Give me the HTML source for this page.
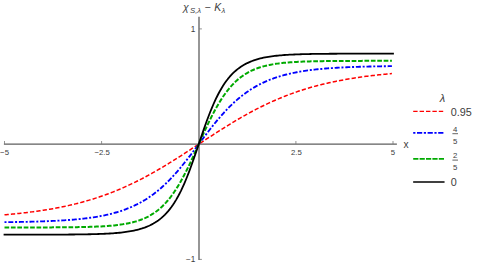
<!DOCTYPE html>
<html><head><meta charset="utf-8"><title>plot</title><style>
html,body{margin:0;padding:0;background:#fff;overflow:hidden;}
svg{display:block;font-family:"Liberation Sans",sans-serif;}
</style></head><body>
<svg width="477" height="268" viewBox="0 0 477 268">
<rect width="477" height="268" fill="#fff"/>
<g stroke="#5e5e5e" stroke-width="1.3" fill="none">
<path d="M3.9 144.15 H396.9"/>
<path d="M199 16.8 V259.9"/>
</g>
<g stroke="#777" stroke-width="0.8" fill="none">
<path d="M4.5 144 V141"/>
<path d="M101.6 144 V141"/>
<path d="M295.9 144 V141"/>
<path d="M393 144 V141"/>
<path d="M199 28.9 H201.9"/>
<path d="M199 259.4 H201.9"/>
</g>
<g fill="none" stroke-linejoin="round">
<path d="M4.50 214.78 L6.11 214.64 L7.73 214.50 L9.34 214.35 L10.96 214.20 L12.57 214.05 L14.19 213.89 L15.80 213.73 L17.41 213.57 L19.03 213.40 L20.64 213.22 L22.26 213.05 L23.87 212.86 L25.48 212.68 L27.10 212.48 L28.71 212.29 L30.33 212.08 L31.94 211.88 L33.56 211.66 L35.17 211.44 L36.78 211.22 L38.40 210.99 L40.01 210.76 L41.63 210.52 L43.24 210.27 L44.86 210.01 L46.47 209.76 L48.08 209.49 L49.70 209.22 L51.31 208.94 L52.93 208.65 L54.54 208.36 L56.15 208.06 L57.77 207.75 L59.38 207.44 L61.00 207.12 L62.61 206.79 L64.23 206.45 L65.84 206.11 L67.45 205.75 L69.07 205.39 L70.68 205.02 L72.30 204.64 L73.91 204.26 L75.53 203.86 L77.14 203.46 L78.75 203.05 L80.37 202.62 L81.98 202.19 L83.60 201.75 L85.21 201.30 L86.83 200.84 L88.44 200.37 L90.05 199.89 L91.67 199.40 L93.28 198.91 L94.90 198.40 L96.51 197.88 L98.12 197.35 L99.74 196.80 L101.35 196.25 L102.97 195.69 L104.58 195.12 L106.20 194.53 L107.81 193.94 L109.42 193.33 L111.04 192.71 L112.65 192.08 L114.27 191.44 L115.88 190.79 L117.50 190.13 L119.11 189.46 L120.72 188.77 L122.34 188.07 L123.95 187.36 L125.57 186.64 L127.18 185.91 L128.79 185.17 L130.41 184.42 L132.02 183.65 L133.64 182.87 L135.25 182.09 L136.87 181.29 L138.48 180.48 L140.09 179.66 L141.71 178.82 L143.32 177.98 L144.94 177.13 L146.55 176.26 L148.17 175.39 L149.78 174.51 L151.39 173.61 L153.01 172.71 L154.62 171.79 L156.24 170.87 L157.85 169.94 L159.46 169.00 L161.08 168.05 L162.69 167.09 L164.31 166.12 L165.92 165.15 L167.54 164.16 L169.15 163.17 L170.76 162.18 L172.38 161.17 L173.99 160.16 L175.61 159.15 L177.22 158.13 L178.84 157.10 L180.45 156.07 L182.06 155.03 L183.68 153.99 L185.29 152.95 L186.91 151.90 L188.52 150.85 L190.14 149.80 L191.75 148.74 L193.36 147.69 L194.98 146.63 L196.59 145.57 L198.21 144.51 L199.82 143.45 L201.43 142.39 L203.05 141.33 L204.66 140.27 L206.28 139.21 L207.89 138.16 L209.51 137.11 L211.12 136.06 L212.73 135.01 L214.35 133.97 L215.96 132.93 L217.58 131.89 L219.19 130.86 L220.81 129.84 L222.42 128.82 L224.03 127.81 L225.65 126.80 L227.26 125.80 L228.88 124.80 L230.49 123.82 L232.10 122.84 L233.72 121.86 L235.33 120.90 L236.95 119.94 L238.56 119.00 L240.18 118.06 L241.79 117.13 L243.40 116.21 L245.02 115.30 L246.63 114.40 L248.25 113.51 L249.86 112.62 L251.48 111.75 L253.09 110.89 L254.70 110.04 L256.32 109.20 L257.93 108.37 L259.55 107.56 L261.16 106.75 L262.77 105.96 L264.39 105.17 L266.00 104.40 L267.62 103.64 L269.23 102.89 L270.85 102.15 L272.46 101.42 L274.07 100.70 L275.69 100.00 L277.30 99.31 L278.92 98.62 L280.53 97.95 L282.15 97.29 L283.76 96.65 L285.37 96.01 L286.99 95.38 L288.60 94.77 L290.22 94.17 L291.83 93.58 L293.44 93.00 L295.06 92.43 L296.67 91.87 L298.29 91.32 L299.90 90.78 L301.52 90.25 L303.13 89.74 L304.74 89.23 L306.36 88.73 L307.97 88.25 L309.59 87.77 L311.20 87.31 L312.82 86.85 L314.43 86.40 L316.04 85.96 L317.66 85.54 L319.27 85.12 L320.89 84.71 L322.50 84.31 L324.12 83.91 L325.73 83.53 L327.34 83.16 L328.96 82.79 L330.57 82.43 L332.19 82.08 L333.80 81.74 L335.41 81.40 L337.03 81.08 L338.64 80.76 L340.26 80.45 L341.87 80.14 L343.49 79.84 L345.10 79.55 L346.71 79.27 L348.33 78.99 L349.94 78.72 L351.56 78.46 L353.17 78.20 L354.79 77.95 L356.40 77.71 L358.01 77.47 L359.63 77.23 L361.24 77.01 L362.86 76.78 L364.47 76.57 L366.08 76.36 L367.70 76.15 L369.31 75.95 L370.93 75.75 L372.54 75.56 L374.16 75.38 L375.77 75.20 L377.38 75.02 L379.00 74.85 L380.61 74.68 L382.23 74.51 L383.84 74.35 L385.46 74.20 L387.07 74.05 L388.68 73.90 L390.30 73.76 L391.91 73.62" stroke="#ff0000" stroke-width="1.5" stroke-dasharray="4.3 2.1"/>
<path d="M4.50 222.17 L6.11 222.15 L7.73 222.13 L9.34 222.11 L10.96 222.09 L12.57 222.06 L14.19 222.04 L15.80 222.01 L17.41 221.99 L19.03 221.96 L20.64 221.93 L22.26 221.90 L23.87 221.87 L25.48 221.84 L27.10 221.80 L28.71 221.76 L30.33 221.73 L31.94 221.69 L33.56 221.64 L35.17 221.60 L36.78 221.55 L38.40 221.50 L40.01 221.45 L41.63 221.40 L43.24 221.34 L44.86 221.28 L46.47 221.22 L48.08 221.16 L49.70 221.09 L51.31 221.02 L52.93 220.95 L54.54 220.87 L56.15 220.79 L57.77 220.70 L59.38 220.61 L61.00 220.52 L62.61 220.42 L64.23 220.31 L65.84 220.20 L67.45 220.09 L69.07 219.97 L70.68 219.85 L72.30 219.72 L73.91 219.58 L75.53 219.43 L77.14 219.28 L78.75 219.13 L80.37 218.96 L81.98 218.79 L83.60 218.61 L85.21 218.42 L86.83 218.22 L88.44 218.01 L90.05 217.79 L91.67 217.56 L93.28 217.32 L94.90 217.07 L96.51 216.81 L98.12 216.53 L99.74 216.24 L101.35 215.94 L102.97 215.63 L104.58 215.30 L106.20 214.95 L107.81 214.59 L109.42 214.21 L111.04 213.81 L112.65 213.40 L114.27 212.97 L115.88 212.51 L117.50 212.04 L119.11 211.55 L120.72 211.03 L122.34 210.49 L123.95 209.92 L125.57 209.33 L127.18 208.72 L128.79 208.07 L130.41 207.40 L132.02 206.70 L133.64 205.97 L135.25 205.21 L136.87 204.42 L138.48 203.59 L140.09 202.73 L141.71 201.83 L143.32 200.90 L144.94 199.93 L146.55 198.92 L148.17 197.87 L149.78 196.78 L151.39 195.65 L153.01 194.48 L154.62 193.26 L156.24 192.00 L157.85 190.70 L159.46 189.35 L161.08 187.96 L162.69 186.51 L164.31 185.03 L165.92 183.50 L167.54 181.92 L169.15 180.29 L170.76 178.63 L172.38 176.91 L173.99 175.16 L175.61 173.36 L177.22 171.52 L178.84 169.64 L180.45 167.72 L182.06 165.77 L183.68 163.78 L185.29 161.77 L186.91 159.72 L188.52 157.65 L190.14 155.56 L191.75 153.45 L193.36 151.32 L194.98 149.18 L196.59 147.03 L198.21 144.88 L199.82 142.72 L201.43 140.57 L203.05 138.42 L204.66 136.29 L206.28 134.16 L207.89 132.06 L209.51 129.97 L211.12 127.91 L212.73 125.87 L214.35 123.87 L215.96 121.89 L217.58 119.95 L219.19 118.05 L220.81 116.18 L222.42 114.35 L224.03 112.57 L225.65 110.82 L227.26 109.13 L228.88 107.47 L230.49 105.86 L232.10 104.30 L233.72 102.78 L235.33 101.31 L236.95 99.88 L238.56 98.50 L240.18 97.17 L241.79 95.88 L243.40 94.63 L245.02 93.43 L246.63 92.27 L248.25 91.16 L249.86 90.08 L251.48 89.04 L253.09 88.05 L254.70 87.09 L256.32 86.17 L257.93 85.28 L259.55 84.43 L261.16 83.62 L262.77 82.84 L264.39 82.08 L266.00 81.36 L267.62 80.67 L269.23 80.01 L270.85 79.38 L272.46 78.77 L274.07 78.19 L275.69 77.63 L277.30 77.10 L278.92 76.59 L280.53 76.10 L282.15 75.64 L283.76 75.19 L285.37 74.76 L286.99 74.35 L288.60 73.96 L290.22 73.59 L291.83 73.24 L293.44 72.89 L295.06 72.57 L296.67 72.26 L298.29 71.96 L299.90 71.68 L301.52 71.41 L303.13 71.15 L304.74 70.90 L306.36 70.66 L307.97 70.44 L309.59 70.22 L311.20 70.02 L312.82 69.82 L314.43 69.63 L316.04 69.45 L317.66 69.28 L319.27 69.12 L320.89 68.97 L322.50 68.82 L324.12 68.68 L325.73 68.54 L327.34 68.41 L328.96 68.29 L330.57 68.17 L332.19 68.06 L333.80 67.95 L335.41 67.85 L337.03 67.75 L338.64 67.66 L340.26 67.57 L341.87 67.49 L343.49 67.41 L345.10 67.33 L346.71 67.26 L348.33 67.19 L349.94 67.12 L351.56 67.06 L353.17 67.00 L354.79 66.94 L356.40 66.88 L358.01 66.83 L359.63 66.78 L361.24 66.73 L362.86 66.69 L364.47 66.64 L366.08 66.60 L367.70 66.56 L369.31 66.52 L370.93 66.49 L372.54 66.45 L374.16 66.42 L375.77 66.39 L377.38 66.36 L379.00 66.33 L380.61 66.30 L382.23 66.28 L383.84 66.25 L385.46 66.23 L387.07 66.21 L388.68 66.19 L390.30 66.16 L391.91 66.15" stroke="#0000ff" stroke-width="1.85" stroke-dasharray="2.0 1.8 5.0 1.8"/>
<path d="M4.50 227.46 L6.11 227.46 L7.73 227.45 L9.34 227.45 L10.96 227.45 L12.57 227.45 L14.19 227.45 L15.80 227.45 L17.41 227.45 L19.03 227.45 L20.64 227.45 L22.26 227.44 L23.87 227.44 L25.48 227.44 L27.10 227.44 L28.71 227.44 L30.33 227.43 L31.94 227.43 L33.56 227.43 L35.17 227.42 L36.78 227.42 L38.40 227.42 L40.01 227.41 L41.63 227.41 L43.24 227.41 L44.86 227.40 L46.47 227.39 L48.08 227.39 L49.70 227.38 L51.31 227.38 L52.93 227.37 L54.54 227.36 L56.15 227.35 L57.77 227.34 L59.38 227.33 L61.00 227.32 L62.61 227.31 L64.23 227.30 L65.84 227.28 L67.45 227.27 L69.07 227.25 L70.68 227.23 L72.30 227.21 L73.91 227.19 L75.53 227.17 L77.14 227.14 L78.75 227.11 L80.37 227.08 L81.98 227.05 L83.60 227.02 L85.21 226.98 L86.83 226.94 L88.44 226.89 L90.05 226.85 L91.67 226.79 L93.28 226.74 L94.90 226.68 L96.51 226.61 L98.12 226.54 L99.74 226.46 L101.35 226.38 L102.97 226.28 L104.58 226.18 L106.20 226.08 L107.81 225.96 L109.42 225.83 L111.04 225.70 L112.65 225.55 L114.27 225.39 L115.88 225.22 L117.50 225.03 L119.11 224.82 L120.72 224.60 L122.34 224.37 L123.95 224.11 L125.57 223.83 L127.18 223.53 L128.79 223.20 L130.41 222.85 L132.02 222.47 L133.64 222.05 L135.25 221.61 L136.87 221.13 L138.48 220.61 L140.09 220.05 L141.71 219.44 L143.32 218.79 L144.94 218.09 L146.55 217.34 L148.17 216.52 L149.78 215.65 L151.39 214.71 L153.01 213.70 L154.62 212.62 L156.24 211.46 L157.85 210.21 L159.46 208.88 L161.08 207.46 L162.69 205.94 L164.31 204.32 L165.92 202.60 L167.54 200.77 L169.15 198.83 L170.76 196.77 L172.38 194.60 L173.99 192.31 L175.61 189.89 L177.22 187.36 L178.84 184.71 L180.45 181.94 L182.06 179.05 L183.68 176.05 L185.29 172.94 L186.91 169.74 L188.52 166.45 L190.14 163.07 L191.75 159.62 L193.36 156.11 L194.98 152.56 L196.59 148.97 L198.21 145.37 L199.82 141.76 L201.43 138.15 L203.05 134.58 L204.66 131.04 L206.28 127.55 L207.89 124.12 L209.51 120.77 L211.12 117.50 L212.73 114.33 L214.35 111.26 L215.96 108.30 L217.58 105.45 L219.19 102.71 L220.81 100.10 L222.42 97.61 L224.03 95.23 L225.65 92.98 L227.26 90.84 L228.88 88.82 L230.49 86.92 L232.10 85.13 L233.72 83.44 L235.33 81.85 L236.95 80.37 L238.56 78.98 L240.18 77.67 L241.79 76.46 L243.40 75.32 L245.02 74.26 L246.63 73.28 L248.25 72.36 L249.86 71.51 L251.48 70.71 L253.09 69.97 L254.70 69.29 L256.32 68.65 L257.93 68.06 L259.55 67.52 L261.16 67.01 L262.77 66.54 L264.39 66.11 L266.00 65.71 L267.62 65.33 L269.23 64.99 L270.85 64.67 L272.46 64.38 L274.07 64.11 L275.69 63.85 L277.30 63.62 L278.92 63.41 L280.53 63.21 L282.15 63.03 L283.76 62.86 L285.37 62.70 L286.99 62.56 L288.60 62.42 L290.22 62.30 L291.83 62.19 L293.44 62.08 L295.06 61.99 L296.67 61.90 L298.29 61.81 L299.90 61.74 L301.52 61.67 L303.13 61.60 L304.74 61.54 L306.36 61.49 L307.97 61.44 L309.59 61.39 L311.20 61.35 L312.82 61.31 L314.43 61.27 L316.04 61.24 L317.66 61.21 L319.27 61.18 L320.89 61.15 L322.50 61.13 L324.12 61.10 L325.73 61.08 L327.34 61.06 L328.96 61.05 L330.57 61.03 L332.19 61.01 L333.80 61.00 L335.41 60.99 L337.03 60.98 L338.64 60.96 L340.26 60.95 L341.87 60.95 L343.49 60.94 L345.10 60.93 L346.71 60.92 L348.33 60.92 L349.94 60.91 L351.56 60.90 L353.17 60.90 L354.79 60.89 L356.40 60.89 L358.01 60.88 L359.63 60.88 L361.24 60.88 L362.86 60.87 L364.47 60.87 L366.08 60.87 L367.70 60.87 L369.31 60.86 L370.93 60.86 L372.54 60.86 L374.16 60.86 L375.77 60.86 L377.38 60.85 L379.00 60.85 L380.61 60.85 L382.23 60.85 L383.84 60.85 L385.46 60.85 L387.07 60.85 L388.68 60.85 L390.30 60.85 L391.91 60.84" stroke="#00aa00" stroke-width="2" stroke-dasharray="4.7 1.7"/>
<path d="M4.50 234.66 L6.12 234.66 L7.74 234.66 L9.36 234.66 L10.97 234.66 L12.59 234.66 L14.21 234.66 L15.83 234.66 L17.45 234.66 L19.07 234.66 L20.69 234.66 L22.31 234.65 L23.92 234.65 L25.54 234.65 L27.16 234.65 L28.78 234.65 L30.40 234.65 L32.02 234.65 L33.64 234.64 L35.26 234.64 L36.87 234.64 L38.49 234.64 L40.11 234.63 L41.73 234.63 L43.35 234.63 L44.97 234.63 L46.59 234.62 L48.21 234.62 L49.82 234.61 L51.44 234.61 L53.06 234.60 L54.68 234.60 L56.30 234.59 L57.92 234.59 L59.54 234.58 L61.16 234.57 L62.78 234.56 L64.39 234.55 L66.01 234.54 L67.63 234.53 L69.25 234.52 L70.87 234.51 L72.49 234.49 L74.11 234.48 L75.72 234.46 L77.34 234.44 L78.96 234.43 L80.58 234.40 L82.20 234.38 L83.82 234.36 L85.44 234.33 L87.06 234.30 L88.67 234.27 L90.29 234.23 L91.91 234.20 L93.53 234.16 L95.15 234.11 L96.77 234.06 L98.39 234.01 L100.01 233.95 L101.62 233.89 L103.24 233.82 L104.86 233.75 L106.48 233.67 L108.10 233.58 L109.72 233.49 L111.34 233.39 L112.96 233.28 L114.57 233.15 L116.19 233.02 L117.81 232.88 L119.43 232.73 L121.05 232.56 L122.67 232.37 L124.29 232.17 L125.91 231.96 L127.52 231.72 L129.14 231.47 L130.76 231.19 L132.38 230.89 L134.00 230.56 L135.62 230.20 L137.24 229.81 L138.86 229.39 L140.47 228.93 L142.09 228.44 L143.71 227.90 L145.33 227.31 L146.95 226.67 L148.57 225.98 L150.19 225.23 L151.81 224.41 L153.42 223.53 L155.04 222.56 L156.66 221.52 L158.28 220.39 L159.90 219.16 L161.52 217.83 L163.14 216.40 L164.76 214.84 L166.37 213.15 L167.99 211.33 L169.61 209.37 L171.23 207.25 L172.85 204.96 L174.47 202.51 L176.09 199.87 L177.71 197.05 L179.32 194.04 L180.94 190.83 L182.56 187.42 L184.18 183.81 L185.80 180.00 L187.42 176.01 L189.04 171.83 L190.66 167.49 L192.27 163.01 L193.89 158.41 L195.51 153.71 L197.13 148.95 L198.75 144.15 L200.37 139.35 L201.99 134.59 L203.61 129.89 L205.22 125.29 L206.84 120.81 L208.46 116.47 L210.08 112.29 L211.70 108.30 L213.32 104.49 L214.94 100.88 L216.56 97.47 L218.18 94.26 L219.79 91.25 L221.41 88.43 L223.03 85.79 L224.65 83.34 L226.27 81.05 L227.89 78.93 L229.51 76.97 L231.12 75.15 L232.74 73.46 L234.36 71.90 L235.98 70.47 L237.60 69.14 L239.22 67.91 L240.84 66.78 L242.46 65.74 L244.07 64.77 L245.69 63.89 L247.31 63.07 L248.93 62.32 L250.55 61.63 L252.17 60.99 L253.79 60.40 L255.41 59.86 L257.02 59.37 L258.64 58.91 L260.26 58.49 L261.88 58.10 L263.50 57.74 L265.12 57.41 L266.74 57.11 L268.36 56.83 L269.98 56.58 L271.59 56.34 L273.21 56.13 L274.83 55.93 L276.45 55.74 L278.07 55.57 L279.69 55.42 L281.31 55.28 L282.92 55.15 L284.54 55.02 L286.16 54.91 L287.78 54.81 L289.40 54.72 L291.02 54.63 L292.64 54.55 L294.26 54.48 L295.88 54.41 L297.49 54.35 L299.11 54.29 L300.73 54.24 L302.35 54.19 L303.97 54.14 L305.59 54.10 L307.21 54.07 L308.82 54.03 L310.44 54.00 L312.06 53.97 L313.68 53.94 L315.30 53.92 L316.92 53.90 L318.54 53.87 L320.16 53.86 L321.77 53.84 L323.39 53.82 L325.01 53.81 L326.63 53.79 L328.25 53.78 L329.87 53.77 L331.49 53.76 L333.11 53.75 L334.73 53.74 L336.34 53.73 L337.96 53.72 L339.58 53.71 L341.20 53.71 L342.82 53.70 L344.44 53.70 L346.06 53.69 L347.67 53.69 L349.29 53.68 L350.91 53.68 L352.53 53.67 L354.15 53.67 L355.77 53.67 L357.39 53.67 L359.01 53.66 L360.62 53.66 L362.24 53.66 L363.86 53.66 L365.48 53.65 L367.10 53.65 L368.72 53.65 L370.34 53.65 L371.96 53.65 L373.58 53.65 L375.19 53.65 L376.81 53.64 L378.43 53.64 L380.05 53.64 L381.67 53.64 L383.29 53.64 L384.91 53.64 L386.52 53.64 L388.14 53.64 L389.76 53.64 L391.38 53.64 L393.00 53.64" stroke="#000" stroke-width="1.8" stroke-linecap="square"/>
</g>
<g fill="#3c3c3c" font-family="&quot;Liberation Sans&quot;, sans-serif">
<text x="9" y="154.6" font-size="7.8" text-anchor="end">−5</text>
<text x="109.9" y="154.6" font-size="7.8" text-anchor="end">−2.5</text>
<text x="296.3" y="154.6" font-size="7.8" text-anchor="middle">2.5</text>
<text x="392.9" y="154.6" font-size="7.8" text-anchor="middle">5</text>
<text x="195.2" y="31.8" font-size="8.2" text-anchor="end">1</text>
<text x="195.4" y="262.4" font-size="8.2" text-anchor="end">−1</text>
<text x="403.5" y="147.7" font-size="10.2">x</text>
<text x="183" y="10.5" font-size="10.5" font-style="italic">χ</text>
<text x="190" y="12.8" font-size="7.7" font-style="italic">S,λ</text>
<text x="204.6" y="10.5" font-size="10.5">−</text>
<text x="214.3" y="10.5" font-size="10.5" font-style="italic">K</text>
<text x="221.5" y="12.8" font-size="7.7" font-style="italic">λ</text>
<text x="439.8" y="101.5" font-size="11" font-style="italic">λ</text>
<text x="450.7" y="116" font-size="10.8">0.95</text>
<text x="455.2" y="131.8" font-size="7.8" text-anchor="middle">4</text>
<text x="455.2" y="143.7" font-size="7.8" text-anchor="middle">5</text>
<text x="455.2" y="157.9" font-size="7.8" text-anchor="middle">2</text>
<text x="455.2" y="170" font-size="7.8" text-anchor="middle">5</text>
<text x="450.7" y="186.4" font-size="10.8">0</text>
</g>
<g fill="none">
<path d="M413.2 111.45 H443.5" stroke="#ff0000" stroke-width="1.3" stroke-dasharray="4.4 2"/>
<path d="M413.2 132.85 H443.5" stroke="#0000ff" stroke-width="1.65" stroke-dasharray="2.2 1.6 5.2 1.6"/>
<path d="M413.2 158.9 H444" stroke="#00aa00" stroke-width="1.6" stroke-dasharray="5.2 1.2"/>
<path d="M413.9 182 H443.8" stroke="#000" stroke-width="1.5" stroke-linecap="square"/>
</g>
<g stroke="#3c3c3c" stroke-width="0.8">
<path d="M452.4 133.7 H458"/>
<path d="M452.4 160.1 H458"/>
</g>
</svg>
</body></html>
